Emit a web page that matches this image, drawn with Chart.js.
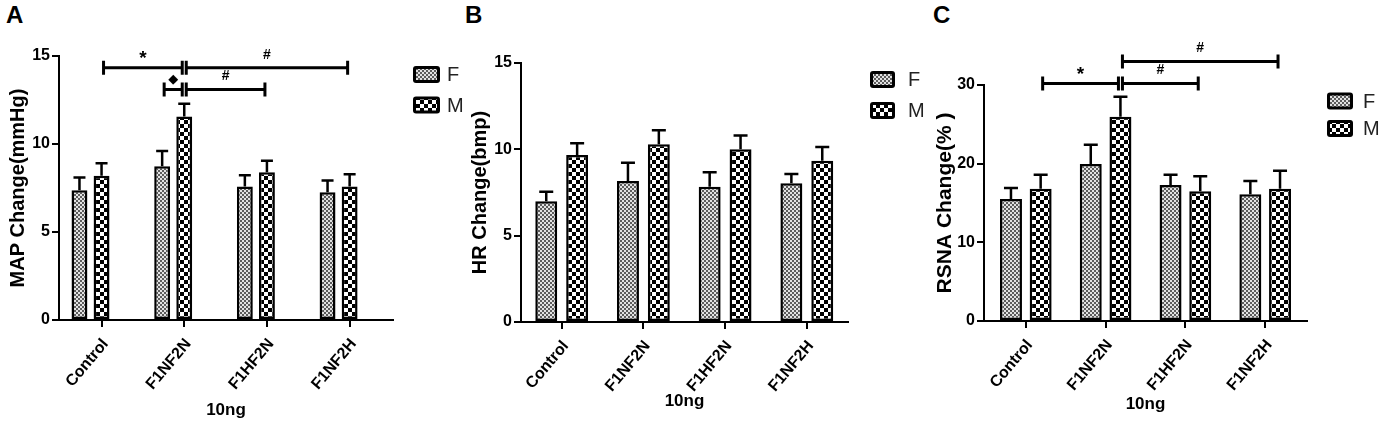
<!DOCTYPE html>
<html lang="en">
<head>
<meta charset="UTF-8">
<title>MAP, HR and RSNA change at 10ng</title>
<script src="https://cdn.jsdelivr.net/npm/chart.js@4"></script>
<style>
  body { margin: 0; background: #fff; width: 1384px; height: 436px; position: relative; overflow: hidden;
         font-family: "Liberation Sans", Arial, sans-serif; }
  canvas { position: absolute; top: 0; }
  .tag { position: absolute; top: 1px; font-size: 24px; font-weight: bold; color: #000; }
</style>
</head>
<body>
  <div class="tag" style="left:6px">A</div>
  <div class="tag" style="left:465px">B</div>
  <div class="tag" style="left:933px">C</div>
  <canvas id="chartA" width="485" height="436" style="left:0px"></canvas>
  <canvas id="chartB" width="485" height="436" style="left:460px"></canvas>
  <canvas id="chartC" width="464" height="436" style="left:920px"></canvas>

<script>
// groups on the x axis and the two series
const categories = ['Control', 'F1NF2N', 'F1HF2N', 'F1NF2H'];
const seriesNames = ['F', 'M'];

// A: MAP change (mmHg), mean and SEM
const mapF = [7.37, 8.73, 7.58, 7.26];
const mapFSem = [0.73, 0.87, 0.64, 0.66];
const mapM = [8.20, 11.56, 8.40, 7.58];
const mapMSem = [0.70, 0.72, 0.65, 0.70];

// B: HR change (bmp)
const hrF = [7.00, 8.16, 7.84, 8.03];
const hrFSem = [0.55, 1.06, 0.83, 0.54];
const hrM = [9.67, 10.30, 10.00, 9.34];
const hrMSem = [0.68, 0.80, 0.80, 0.79];

// C: RSNA change (%)
const rsnaF = [15.5, 19.95, 17.3, 16.1];
const rsnaFSem = [1.4, 2.45, 1.3, 1.7];
const rsnaM = [16.8, 25.96, 16.5, 16.8];
const rsnaMSem = [1.8, 2.54, 1.9, 2.3];

// significance brackets: [group, series] at each end, height in axis units
const mapBrackets = [
  { from: [0, 1], to: [1, 1], y: 14.33, label: '*' },
  { from: [1, 1], to: [3, 1], y: 14.33, label: '#' },
  { from: [1, 0], to: [1, 1], y: 13.1, label: '\u25C6' },
  { from: [1, 1], to: [2, 1], y: 13.1, label: '#' }
];
const rsnaBrackets = [
  { from: [0, 1], to: [1, 1], y: 30.2, label: '*' },
  { from: [1, 1], to: [2, 1], y: 30.2, label: '#' },
  { from: [1, 1], to: [3, 1], y: 33.0, label: '#' }
];

Chart.defaults.font.family = '"Liberation Sans", Arial, sans-serif';
Chart.defaults.color = '#000';

function makePattern(kind) {
  const c = document.createElement('canvas');
  const g = c.getContext('2d');
  if (kind === 'F') {
    c.width = c.height = 4;
    g.fillStyle = '#e2e2e2'; g.fillRect(0, 0, 4, 4);
    g.fillStyle = '#5c5c5c'; g.fillRect(0, 0, 2, 2); g.fillRect(2, 2, 2, 2);
  } else {
    c.width = c.height = 8;
    g.fillStyle = '#fff'; g.fillRect(0, 0, 8, 8);
    g.fillStyle = '#000'; g.fillRect(0, 0, 4, 4); g.fillRect(4, 4, 4, 4);
  }
  return g.createPattern(c, 'repeat');
}
const patF = makePattern('F');
const patM = makePattern('M');

// error bars, brackets and the legend
const overlay = {
  id: 'overlay',
  afterDatasetsDraw(chart, args, o) {
    const ctx = chart.ctx, ys = chart.scales.y;
    ctx.save();
    ctx.strokeStyle = '#000';
    ctx.fillStyle = '#000';
    ctx.lineWidth = 2.5;
    chart.data.datasets.forEach((ds, di) => {
      chart.getDatasetMeta(di).data.forEach((bar, i) => {
        const top = ys.getPixelForValue(ds.data[i].y + ds.sem[i]);
        ctx.beginPath();
        ctx.moveTo(bar.x, bar.y); ctx.lineTo(bar.x, top);
        ctx.moveTo(bar.x - o.cap, top); ctx.lineTo(bar.x + o.cap, top);
        ctx.stroke();
      });
    });

    const px = (g, s) => chart.getDatasetMeta(s).data[g].x;
    ctx.lineWidth = 3;
    (o.brackets || []).forEach(b => {
      const x1 = px(b.from[0], b.from[1]) + 2;
      const x2 = px(b.to[0], b.to[1]) - 2;
      const yy = ys.getPixelForValue(b.y);
      ctx.beginPath();
      ctx.moveTo(x1, yy); ctx.lineTo(x2, yy);
      ctx.moveTo(x1, yy - 7); ctx.lineTo(x1, yy + 7);
      ctx.moveTo(x2, yy - 7); ctx.lineTo(x2, yy + 7);
      ctx.stroke();
      ctx.textAlign = 'center';
      ctx.textBaseline = 'middle';
      if (b.label === '*') {
        ctx.font = 'bold 19px "Liberation Sans", Arial';
        ctx.fillText(b.label, (x1 + x2) / 2, yy - 9);
      } else if (b.label === '#') {
        ctx.font = 'bold 14px "Liberation Sans", Arial';
        ctx.fillText(b.label, (x1 + x2) / 2, yy - 13);
      } else {
        ctx.font = '13px "DejaVu Sans"';
        ctx.fillText(b.label, (x1 + x2) / 2, yy - 10);
      }
    });

    const lg = o.legend;
    chart.data.datasets.forEach((ds, di) => {
      const cy = lg.y[di];
      ctx.fillStyle = '#000';
      ctx.beginPath();
      ctx.roundRect(lg.x, cy - lg.h / 2, lg.w, lg.h, 3);
      ctx.fill();
      ctx.fillStyle = ds.backgroundColor;
      ctx.fillRect(lg.x + 3, cy - lg.h / 2 + 3, lg.w - 6, lg.h - 6);
      ctx.fillStyle = '#222';
      ctx.font = '20px "Liberation Sans", Arial';
      ctx.textAlign = 'left';
      ctx.textBaseline = 'middle';
      ctx.fillText(ds.label, lg.textX, cy + 1);
    });
    ctx.restore();
  }
};

function panel(id, p) {
  const xy = arr => arr.map((v, i) => ({ x: i, y: v }));
  const axisLine = { display: true, color: '#000', width: 2 };
  const tickMarks = { display: true, drawOnChartArea: false, drawTicks: true, tickLength: 7, color: '#000', lineWidth: 2 };
  new Chart(document.getElementById(id), {
    type: 'bar',
    data: {
      datasets: [
        { label: seriesNames[0], data: xy(p.f), sem: p.fSem, backgroundColor: patF },
        { label: seriesNames[1], data: xy(p.m), sem: p.mSem, backgroundColor: patM }
      ]
    },
    options: {
      responsive: false,
      animation: false,
      events: [],
      layout: { padding: { top: p.top, right: p.right, left: 0, bottom: 0 } },
      datasets: {
        bar: {
          borderColor: '#000', borderWidth: 2.5, borderSkipped: false,
          categoryPercentage: p.catPct, barPercentage: p.barPct
        }
      },
      plugins: {
        legend: { display: false },
        tooltip: { enabled: false },
        overlay: { cap: p.cap, brackets: p.brackets, legend: p.legend }
      },
      scales: {
        x: {
          type: 'linear', offset: false, min: p.xMin, max: p.xMax,
          afterBuildTicks: s => { s.ticks = p.tickPos.map(v => ({ value: v })); },
          afterFit: s => { s.height = p.xH; },
          ticks: {
            autoSkip: false, minRotation: 50, maxRotation: 50, padding: 8, labelOffset: 4,
            font: { size: 16, weight: 'bold' },
            callback: (v, i) => categories[i]
          },
          grid: Object.assign({}, tickMarks, { offset: false }),
          border: axisLine,
          title: { display: true, text: '10ng', font: { size: 17, weight: 'bold' }, padding: { top: 0, bottom: p.xTitlePad } }
        },
        y: {
          min: 0, max: p.yMax,
          afterFit: s => { s.width = p.yW; },
          ticks: { stepSize: p.yStep, padding: 2, font: { size: 16, weight: 'bold' } },
          grid: tickMarks,
          border: axisLine,
          title: { display: true, text: p.yTitle, font: { size: p.yTitleSize, weight: 'bold' }, padding: { top: p.yTitlePad, bottom: 0 } }
        }
      }
    },
    plugins: [overlay]
  });
}

panel('chartA', {
  f: mapF, fSem: mapFSem, m: mapM, mSem: mapMSem,
  top: 56, right: 92, yW: 59, xH: 116,
  xMin: -0.381, xMax: 3.658, catPct: 0.534, barPct: 0.72,
  tickPos: [0.134, 1.134, 2.134, 3.134],
  yMax: 15, yStep: 5, yTitle: 'MAP Change(mmHg)', yTitleSize: 20, yTitlePad: 6, xTitlePad: 15,
  cap: 6, brackets: mapBrackets,
  legend: { x: 413, y: [74.5, 105], w: 27, h: 17, textX: 447 }
});

panel('chartB', {
  f: hrF, fSem: hrFSem, m: hrM, mSem: hrMSem,
  top: 63, right: 97, yW: 61, xH: 114,
  xMin: -0.498, xMax: 3.504, catPct: 0.756, barPct: 0.71,
  tickPos: [0, 1, 2, 3],
  yMax: 15, yStep: 5, yTitle: 'HR Change(bmp)', yTitleSize: 20, yTitlePad: 8, xTitlePad: 24,
  cap: 7, brackets: [],
  legend: { x: 410, y: [79.5, 110.5], w: 25, h: 17, textX: 448 }
});

panel('chartC', {
  f: rsnaF, fSem: rsnaFSem, m: rsnaM, mSem: rsnaMSem,
  top: 85, right: 77, yW: 64, xH: 115,
  xMin: -0.524, xMax: 3.524, catPct: 0.744, barPct: 0.74,
  tickPos: [0, 1, 2, 3],
  yMax: 30, yStep: 10, yTitle: 'RSNA Change(% )', yTitleSize: 21, yTitlePad: 13, xTitlePad: 21,
  cap: 7, brackets: rsnaBrackets,
  legend: { x: 407, y: [101, 128.5], w: 26, h: 17, textX: 443 }
});
</script>
</body>
</html>
